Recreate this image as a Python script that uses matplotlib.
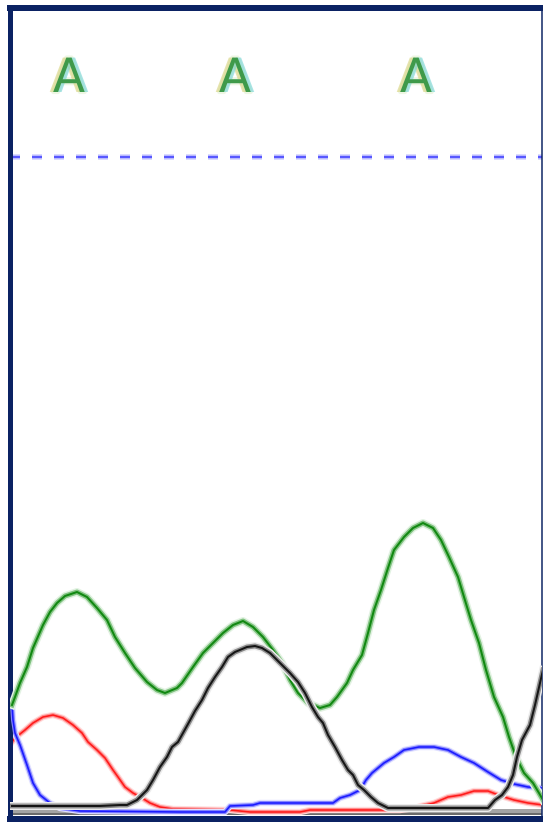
import numpy as np
import matplotlib
matplotlib.use('Agg')
import matplotlib.pyplot as plt
import matplotlib.patheffects as pe

# base calls shown above the trace
bases = ['A', 'A', 'A']
base_pos = [69, 235, 416]

# trace data: scan position and signal intensity (baseline = 0)
a_scan = [12, 15, 20, 27, 33, 43, 50, 57, 65, 77, 87, 97, 107, 115, 125, 135, 147, 157, 165,
          177, 182, 193, 203, 213, 223, 233, 243, 253, 263, 273, 282, 290, 298, 308, 320, 330,
          337, 347, 353, 362, 368, 374, 381, 388, 394, 404, 413, 423, 433, 441, 449, 458, 464,
          471, 479, 486, 494, 503, 509, 516, 524, 533, 539, 543]
a_sig = [101, 109, 123, 139, 158, 181, 194, 203, 210, 214, 209, 198, 186, 169, 153, 138, 124,
         116, 113, 118, 123, 139, 153, 163, 173, 181, 185, 179, 169, 156, 143, 126, 113, 103,
         98, 101, 109, 123, 136, 151, 173, 196, 216, 238, 256, 269, 278, 283, 278, 266, 249,
         229, 209, 186, 163, 136, 109, 89, 69, 49, 33, 23, 13, 6]

g_scan = [12, 60, 100, 120, 127, 137, 147, 153, 160, 167, 172, 178, 183, 188, 195, 202, 208,
          215, 222, 228, 235, 247, 255, 262, 270, 280, 290, 298, 305, 312, 318, 323, 328, 335,
          342, 348, 353, 358, 364, 371, 378, 388, 420, 460, 488, 495, 502, 508, 513, 517, 522,
          530, 535, 540, 543]
g_sig = [0, 0, 0, 1, 1, 6, 16, 26, 39, 49, 59, 64, 73, 82, 95, 106, 118, 129, 139, 149, 154,
         159, 160, 158, 153, 143, 133, 124, 113, 99, 89, 83, 71, 59, 46, 36, 31, 21, 16, 9, 3,
         -2, -2, -2, -2, 6, 11, 19, 31, 49, 66, 81, 101, 123, 136]

t_scan = [12, 15, 25, 33, 43, 53, 63, 73, 82, 88, 97, 105, 113, 118, 125, 133, 142, 150, 160,
          173, 230, 250, 300, 310, 400, 415, 421, 434, 448, 461, 474, 488, 501, 514, 528, 543]
t_sig = [64, 68, 76, 83, 89, 91, 88, 81, 73, 64, 56, 48, 36, 29, 19, 13, 8, 3, -1, -3, -4, -6,
         -6, -4, -4, -2, 0, 3, 9, 11, 15, 15, 10, 6, 3, 1]

c_scan = [12, 13, 15, 20, 27, 33, 40, 50, 60, 80, 180, 225, 230, 253, 260, 333, 340, 350, 360,
          366, 372, 378, 384, 394, 404, 419, 434, 448, 461, 474, 488, 501, 514, 528, 543]
c_sig = [101, 86, 73, 61, 41, 23, 11, 3, -2, -5, -6, -6, 0, 1, 3, 3, 8, 11, 16, 26, 33, 38, 43,
         49, 56, 59, 59, 56, 49, 43, 34, 26, 22, 19, 18]

px = 72 / 100  # one pixel in points
fig = plt.figure(figsize=(5.43, 8.22), dpi=100)
ax = fig.add_axes([9.5 / 543, 3.5 / 822, 532 / 543, 810.5 / 822])
ax.set_xlim(9.5, 541.5)
ax.set_ylim(-12.5, 798)
ax.set_xticks([])
ax.set_yticks([])

# frame
navy = '#0b2263'
for side, w in [('left', 5), ('top', 6), ('bottom', 7), ('right', 1.5)]:
    ax.spines[side].set_color(navy)
    ax.spines[side].set_linewidth(w * px)

# grey baseline strip at the bottom
ax.axhline(-5, color='#a4a4a4', lw=4 * px, zorder=1)
ax.axhline(-8, color='#3a3a3a', lw=1.5 * px, zorder=1)


def trace(x, y, halo, mid, core, z, w=1.0):
    ax.plot(x, y, color=halo, lw=8 * w * px, solid_joinstyle='round', zorder=z)
    ax.plot(x, y, color=mid, lw=5 * w * px, solid_joinstyle='round', zorder=z + 0.1)
    ax.plot(x, y, color=core, lw=2 * w * px, solid_joinstyle='round', zorder=z + 0.2)


trace(t_scan, t_sig, '#ffdcdc', '#ff8c8c', '#ff1a1a', 2, 0.8)
trace(c_scan, c_sig, '#e0e0ff', '#8484ff', '#1a1aff', 2.5, 0.8)
trace(a_scan, a_sig, '#e2f2e2', '#80c280', '#118811', 3)
trace(g_scan, g_sig, '#ececec', '#8a8a8a', '#151515', 3.5)

# threshold line
ax.axhline(649, color='#dadaff', lw=6 * px, dashes=(10 / 6, 12 / 6), zorder=1)
ax.axhline(649, color='#5858ff', lw=2.5 * px, dashes=(10 / 2.5, 12 / 2.5), zorder=1.1)

# base letters, soft yellow/cyan fringes either side
for b, x in zip(bases, base_pos):
    ax.text(x, 714, b, ha='center', va='baseline', fontsize=34, color='#3f9a4a',
            path_effects=[pe.Stroke(linewidth=3, foreground='#eef6e4'),
                          pe.SimplePatchShadow(offset=(-2.5, 0), shadow_rgbFace='#d6d27a', alpha=0.6),
                          pe.SimplePatchShadow(offset=(2.5, 0), shadow_rgbFace='#6fd2d2', alpha=0.6),
                          pe.Normal()])

fig.savefig('out.png', dpi=100)
